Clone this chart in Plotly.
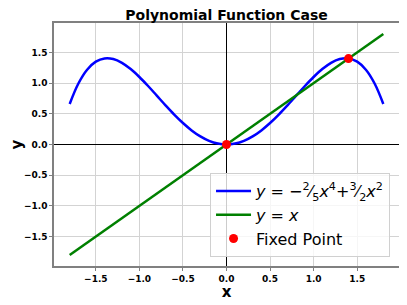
import plotly.graph_objects as go

# Data
x_vals = [-1.8, -1.7, -1.6, -1.5, -1.4, -1.3, -1.2, -1.1, -1.0, -0.9, -0.8, -0.7, -0.6, -0.5,
          -0.4, -0.3, -0.2, -0.1, 0.0, 0.1, 0.2, 0.3, 0.4, 0.5, 0.6, 0.7, 0.8, 0.9, 1.0,
          1.1, 1.2, 1.3, 1.4, 1.5, 1.6, 1.7, 1.8]
poly_vals = [0.661, 0.994, 1.219, 1.350, 1.403, 1.393, 1.331, 1.229, 1.100, 0.953, 0.796,
             0.639, 0.488, 0.350, 0.230, 0.132, 0.059, 0.015, 0.0, 0.015, 0.059, 0.132,
             0.230, 0.350, 0.488, 0.639, 0.796, 0.953, 1.100, 1.229, 1.331, 1.393, 1.403,
             1.350, 1.219, 0.994, 0.661]
line_x = [-1.8, 1.8]
line_y = [-1.8, 1.8]
fixed_x = [0.0, 1.4]
fixed_y = [0.0, 1.4]
tick_vals = [-1.5, -1.0, -0.5, 0.0, 0.5, 1.0, 1.5]
tick_text = ["\u22121.5", "\u22121.0", "\u22120.5", "0.0", "0.5", "1.0", "1.5"]

FONT = "DejaVu Sans"

# The page body has an 8px margin, so the figure is sized/offset to compensate.
W, H = 393, 293

fig = go.Figure()
fig.add_trace(go.Scatter(
    x=x_vals, y=poly_vals, mode="lines", line=dict(color="blue", width=2.5, shape="spline"),
    name="<i>y</i> = \u2212<sup>2</sup>\u2044<sub>5</sub><i>x</i><sup>4</sup>+<sup>3</sup>\u2044<sub>2</sub><i>x</i><sup>2</sup>"))
fig.add_trace(go.Scatter(
    x=line_x, y=line_y, mode="lines", line=dict(color="green", width=2.5),
    name="<i>y</i> = <i>x</i>"))
fig.add_trace(go.Scatter(
    x=fixed_x, y=fixed_y, mode="markers", marker=dict(color="red", size=9),
    name="Fixed Point"))

axis_common = dict(
    tickvals=tick_vals, ticktext=tick_text,
    tickfont=dict(family=FONT, size=9, color="black", weight="bold"),
    showgrid=True, gridcolor="#d3d3d3", gridwidth=1,
    zeroline=True, zerolinecolor="black", zerolinewidth=1,
    showline=True, linecolor="#808080", linewidth=1.5, mirror=True,
    ticks="outside", ticklen=3, tickcolor="#808080",
    range=[-1.98, 1.98], automargin=False,
)

fig.update_layout(
    width=W, height=H,
    margin=dict(l=46, r=2, t=15, b=35, autoexpand=False),
    paper_bgcolor="white", plot_bgcolor="white",
    title=dict(text="<b>Polynomial Function Case</b>", x=0.5, xanchor="center", xref="paper",
               y=1 - 7 / H, yanchor="middle", yref="container",
               font=dict(family=FONT, size=14, color="black")),
    xaxis=dict(**axis_common,
               title=dict(text="<b>x</b>", font=dict(family=FONT, size=15, color="black"), standoff=4)),
    yaxis=dict(**axis_common,
               title=dict(text="<b>y</b>", font=dict(family=FONT, size=15, color="black"), standoff=4)),
    legend=dict(x=0.974, y=0.037, xanchor="right", yanchor="bottom",
                bgcolor="rgba(255,255,255,0.8)", bordercolor="#d0d0d0", borderwidth=1,
                font=dict(family=FONT, size=16, color="black"), tracegroupgap=0, itemwidth=35),
    showlegend=True,
)

fig.write_html("out.html")
